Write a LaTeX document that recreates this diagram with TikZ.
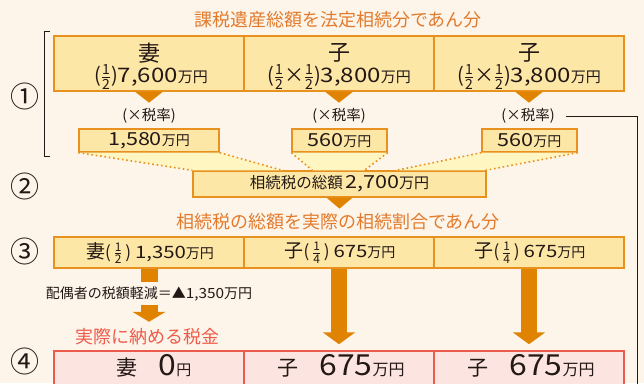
\documentclass[tikz,border=0pt]{standalone}
\usepackage{amsmath}
\usepackage{fontspec}
\setmainfont{Noto Sans CJK JP}
\usetikzlibrary{calc}
\usetikzlibrary{arrows.meta}

\definecolor{cream}{HTML}{FDF5EA}
\definecolor{boxfill}{HTML}{FDE7A6}
\definecolor{boxline}{HTML}{E8911F}
\definecolor{funnel}{HTML}{FFF6C2}
\definecolor{arrowor}{HTML}{E08300}
\definecolor{heador}{HTML}{E27B2E}
\definecolor{redhead}{HTML}{EE5B4C}
\definecolor{pinkfill}{HTML}{FCE5E0}
\definecolor{redline}{HTML}{EA5A4D}
\definecolor{ink}{HTML}{231815}

\newcommand\fsz[1]{\fontsize{#1}{#1}\selectfont}
\newcommand\bunsu[2]{$\genfrac{}{}{0.5pt}{1}{\text{#1}}{\text{#2}}$}
% wide digits
\newcommand\suji[2][1.2]{\scalebox{#1}[1]{#2}}

\begin{document}
\begin{tikzpicture}[x=1pt, y=-1pt, text=ink,
  box/.style={draw=boxline, fill=boxfill, line width=1.3pt, inner sep=0pt},
  rowbox/.style={box, minimum width=190pt},
  smallbox/.style={box, minimum height=23pt},
  redbox/.style={draw=redline, fill=pinkfill, line width=1.5pt, inner sep=0pt,
    minimum width=190pt, minimum height=36pt},
  dots/.style={boxline, line width=1.6pt, dash pattern=on 1.6pt off 2.8pt},
  num/.style={font=\fsz{29}},
  head/.style={font=\fsz{18}, text=heador}]

\clip (0,0) rectangle (644,383);
\fill[cream] (0,0) rectangle (644,383);

% Step numbers
\foreach \k/\n/\y in {1/①/96, 2/②/186, 3/③/251, 4/④/361}
  \node[num] (mk\k) at (25,\y) {\n};

% Bracket of step 1
\draw[ink, line width=0.8pt] (50,31) -- (44,31) -- (44,156) -- (50,156);

% Step 1: shares
\node[head] (head1) at (338,20) {課税遺産総額を法定相続分であん分};

\foreach \i in {1,2,3} {
  \node[rowbox, minimum height=55pt] (top\i) at ({149+190*(\i-1)},63.5) {};
  \fill[arrowor] ($(top\i.south)+(-14,0)$) -- ++(28,0) -- ($(top\i.south)+(0,11)$) -- cycle;
}

\node[font=\fsz{22}] (who1) at (149,53) {妻};
\node[font=\fsz{22}] (who2) at (339,53) {子};
\node[font=\fsz{22}] (who3) at (529,53) {子};
\node[font=\fsz{20}] (amt1) at (151,77) {(\bunsu{1}{2})\suji{7,600}{\fsz{15}万円}};
\node[font=\fsz{20}] (amt2) at (339,77) {(\bunsu{1}{2}×\bunsu{1}{2})\suji{3,800}{\fsz{15}万円}};
\node[font=\fsz{20}] (amt3) at (529,77) {(\bunsu{1}{2}×\bunsu{1}{2})\suji{3,800}{\fsz{15}万円}};

% Tax on each share
\foreach \i/\x in {1/149, 2/339, 3/528}
  \node[font=\fsz{14.5}] (tax\i) at (\x,116) {(×税率)};

\node[smallbox, minimum width=140pt] (tx1) at (149,140.5) {\fsz{18}\suji{1,580}{\fsz{14}万円}};
\node[smallbox, minimum width=95pt] (tx2) at (339.5,140.5) {\fsz{18}\suji{560}{\fsz{14}万円}};
\node[smallbox, minimum width=95pt] (tx3) at (529.5,140.5) {\fsz{18}\suji{560}{\fsz{14}万円}};

\coordinate (rdown) at (637,384);
\draw[ink, line width=0.8pt] (tax3.east) ++(8,0) -| (rdown);

% Step 2: total tax
\node[smallbox, minimum width=293pt, minimum height=26pt] (sum) at (339.5,184)
  {{\fsz{15.5}相続税の総額} {\fsz{18}\suji{2,700}}{\fsz{15}万円}};

\foreach \k/\a/\b in {1/0/90, 2/120/172, 3/204/293} {
  \coordinate (fl\k) at ($(sum.north west)+(\a,0)$);
  \coordinate (fr\k) at ($(sum.north west)+(\b,0)$);
  \fill[funnel] (tx\k.south west) -- (tx\k.south east) -- (fr\k) -- (fl\k) -- cycle;
  \draw[dots] (tx\k.south west) -- (fl\k);
  \draw[dots] (tx\k.south east) -- (fr\k);
}

\fill[arrowor] ($(sum.south)+(-13,0)$) -- ++(26,0) -- ($(sum.south)+(0,11)$) -- cycle;

% Step 3: split by actual shares
\node[head] (head2) at (338,222) {相続税の総額を実際の相続割合であん分};

\foreach \i in {1,2,3}
  \node[rowbox, minimum height=31pt] (mid\i) at ({149+190*(\i-1)},252.5) {};

\node[font=\fsz{17}] (sh1) at (150,253) {{\fsz{19}妻}(\,\bunsu{1}{2}\,) \suji{1,350}{\fsz{14}万円}};
\node[font=\fsz{17}] (sh2) at (340,253) {{\fsz{19}子}(\,\bunsu{1}{4}\,) \suji{675}{\fsz{14}万円}};
\node[font=\fsz{17}] (sh3) at (530,253) {{\fsz{19}子}(\,\bunsu{1}{4}\,) \suji{675}{\fsz{14}万円}};

% Spouse deduction
\draw[arrowor, line width=17pt] (mid1.south) -- ++(0,13);
\node[font=\fsz{14}] (gen) at (149,294) {配偶者の税額軽減＝▲\suji[1.1]{1,350}万円};
\draw[arrowor, line width=17pt, -{Triangle[width=33pt, length=10pt]}] (gen.south) -- ++(0,17);
\node[font=\fsz{18}, text=redhead] (real) at (147.5,337) {実際に納める税金};

% Step 4: tax to pay
\foreach \i in {1,2,3}
  \node[redbox] (low\i) at ({149+190*(\i-1)},369) {};

\foreach \i in {2,3}
  \draw[arrowor, line width=16pt, -{Triangle[width=32pt, length=12pt]}]
    (mid\i.south) -- ($(low\i.north)+(0,-6)$);

\node[font=\fsz{21}] (pay1) at (154,366) {妻　{\fsz{29}\suji[1.1]{0}}{\fsz{15}円}};
\node[font=\fsz{21}] (pay2) at (341,366) {子　{\fsz{29}\suji[1.1]{675}}{\fsz{16}万円}};
\node[font=\fsz{21}] (pay3) at (531,366) {子　{\fsz{29}\suji[1.1]{675}}{\fsz{16}万円}};

\end{tikzpicture}
\end{document}
